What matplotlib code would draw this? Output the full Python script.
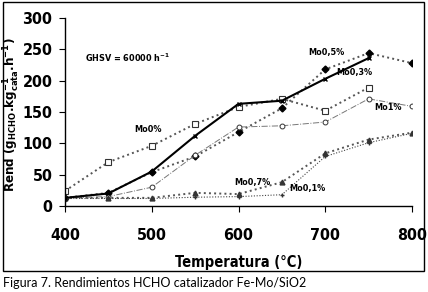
import matplotlib
matplotlib.use("Agg")
import matplotlib.pyplot as plt
from matplotlib.patches import Rectangle

temps = [400, 450, 500, 550, 600, 650, 700, 750, 800]
mo0 = [24, 70, 96, 131, 158, 171, 152, 189, None]
mo03 = [13, 20, 55, 112, 163, 168, 203, 236, None]
mo05 = [13, 21, 54, 79, 118, 156, 218, 244, 228]
mo1 = [13, 15, 30, 81, 126, 128, 134, 171, 159]
mo07 = [13, 13, 13, 21, 19, 38, 84, 106, 117]
mo01 = [12, 12, 12, 14, 15, 18, 79, 101, 116]

labels = {"Mo0%": (148, 130), "Mo0,5%": (326, 52), "Mo0,3%": (354, 72),
          "Mo1%": (388, 107), "Mo0,7%": (252, 182), "Mo0,1%": (307, 189)}

xticks = [400, 500, 600, 700, 800]
yticks = [0, 50, 100, 150, 200, 250, 300]

plt.rcParams["mathtext.fontset"] = "custom"
plt.rcParams["mathtext.rm"] = "DejaVu Sans:bold:stretch=condensed"
plt.rcParams["mathtext.it"] = "DejaVu Sans:bold:stretch=condensed"
plt.rcParams["mathtext.bf"] = "DejaVu Sans:bold:stretch=condensed"

W, H = 428, 292
fig = plt.figure(figsize=(W / 100, H / 100), dpi=100)
ax = fig.add_axes([65 / W, 1 - 206 / H, (412 - 65) / W, (206 - 18) / H])

def xy(vals):
    xs = [t for t, v in zip(temps, vals) if v is not None]
    ys = [v for v in vals if v is not None]
    return xs, ys

g = "#555555"
ax.plot(*xy(mo0), ls=":", color=g, lw=1.4, marker="s", ms=4.5, mfc="white", mec="#333333", mew=0.8)
ax.plot(*xy(mo05), ls=":", color=g, lw=1.4, marker="D", ms=3.5, mfc="black", mec="black")
ax.plot(*xy(mo1), ls="-.", color="#777777", lw=0.7, marker="o", ms=3.5, mfc="white", mec="#333333", mew=0.7)
ax.plot(*xy(mo07), ls=":", color=g, lw=1.4, marker="^", ms=3.5, mfc="#333333", mec="#333333")
ax.plot(*xy(mo01), ls=(0, (1, 1.5)), color="#444444", lw=0.8, marker="+", ms=3, mec="#333333")
ax.plot(*xy(mo03), ls="-", color="black", lw=1.5, marker="x", ms=3.5, mec="black")

ax.set_xlim(400, 800)
ax.set_ylim(0, 300)
ax.set_xticks(xticks)
ax.set_yticks(yticks)
for s in ["top", "right"]:
    ax.spines[s].set_visible(False)
ax.spines["left"].set_linewidth(1.0)
ax.spines["bottom"].set_linewidth(1.0)
ax.tick_params(direction="out", length=4, width=0.8)
ax.tick_params(axis="x", pad=12)
ax.tick_params(axis="y", pad=5)
fnt = ["DejaVu Sans"]
for lab in ax.get_xticklabels() + ax.get_yticklabels():
    lab.set_fontfamily(fnt)
    lab.set_fontstretch("condensed")
    lab.set_fontweight("bold")
    lab.set_fontsize(11.5)

fig.text(239 / W, 1 - 262 / H, "Temperatura (°C)", ha="center", va="center",
         fontsize=10.5, fontweight="bold", family=fnt, fontstretch="condensed")
fig.text(12 / W, 1 - 115 / H, r"Rend (g$_{\mathrm{HCHO}}$.kg$^{-1}_{\mathrm{cata}}$.h$^{-1}$)",
         rotation=90, ha="center", va="center", fontsize=9.5, fontweight="bold",
         family=fnt, fontstretch="condensed")
fig.text(85 / W, 1 - 58 / H, r"GHSV = 60000 h$^{-1}$", ha="left", va="center",
         fontsize=6.5, fontweight="bold", family=fnt, fontstretch="condensed")

for name, (px, py) in labels.items():
    fig.text(px / W, 1 - py / H, name, ha="center", va="center", fontsize=6.5,
             fontweight="bold", family=fnt, fontstretch="condensed")

fig.patches.append(Rectangle((3 / W, 1 - 271 / H), (424 - 3) / W, (271 - 2) / H,
                             transform=fig.transFigure, fill=False, ec="black", lw=1.0))
fig.text(3 / W, 1 - 283 / H, "Figura 7. Rendimientos HCHO catalizador Fe-Mo/SiO2",
         ha="left", va="center", fontsize=9, family=["Lato", "DejaVu Sans"])

fig.savefig("out.png", dpi=100)
